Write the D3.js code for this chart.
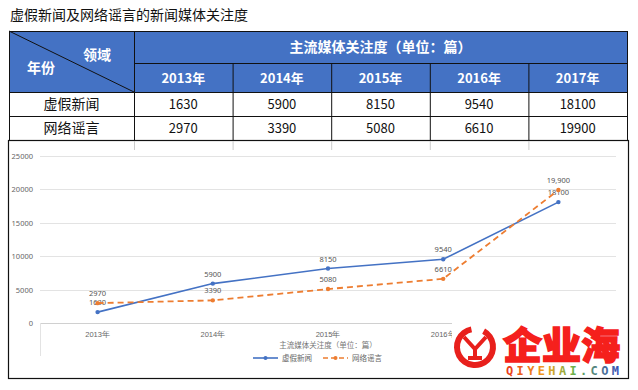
<!DOCTYPE html>
<html>
<head>
<meta charset="utf-8">
<script src="https://cdn.jsdelivr.net/npm/d3@7/dist/d3.min.js"></script>
<style>
  body { margin: 0; background: #fff; }
  svg { display: block; font-family: "Noto Sans CJK SC", "Noto Sans", sans-serif; }
</style>
</head>
<body>
<svg id="chart" width="638" height="390"></svg>
<script>
const years = ['2013年', '2014年', '2015年', '2016年', '2017年'];
const seriesNames = ['虚假新闻', '网络谣言'];
const fakeNews = [1630, 5900, 8150, 9540, 18100];
const rumors = [2970, 3390, 5080, 6610, 19900];
const fakeLabels = ['1630', '5900', '8150', '9540', '18100'];
const rumorLabels = ['2970', '3390', '5080', '6610', '19,900'];
const yTicks = [0, 5000, 10000, 15000, 20000, 25000];

const title = '虚假新闻及网络谣言的新闻媒体关注度';
const unitTitle = '主流媒体关注度（单位：篇）';

const blue = '#4472C4', orange = '#ED7D31';

let svg = d3.select('#chart');

// title
svg.append('text')
  .attr('x', 10).attr('y', 20)
  .attr('font-size', 14).attr('fill', '#111')
  .text(title);

// ---------- table ----------
let tLeft = 9, tRight = 627, firstCol = 134;
let rowY = [31, 63, 92, 116, 140];
let colX = d3.scaleBand().domain(years).range([firstCol, tRight]);

let table = svg.append('g');

table.append('rect')
  .attr('x', tLeft).attr('y', rowY[0])
  .attr('width', tRight - tLeft).attr('height', rowY[2] - rowY[0])
  .attr('fill', blue);

// year header cells + data cells
years.forEach((y, i) => {
  let cx = colX(y) + colX.bandwidth() / 2;
  table.append('text')
    .attr('x', cx).attr('y', (rowY[1] + rowY[2]) / 2 + 5)
    .attr('text-anchor', 'middle').attr('font-size', 13).attr('font-weight', 'bold')
    .attr('fill', '#fff').text(y);
  table.append('text')
    .attr('x', cx).attr('y', (rowY[2] + rowY[3]) / 2 + 5)
    .attr('text-anchor', 'middle').attr('font-size', 13).attr('fill', '#111')
    .text(fakeNews[i]);
  table.append('text')
    .attr('x', cx).attr('y', (rowY[3] + rowY[4]) / 2 + 5)
    .attr('text-anchor', 'middle').attr('font-size', 13).attr('fill', '#111')
    .text(rumors[i]);
});

table.append('text')
  .attr('x', (firstCol + tRight) / 2).attr('y', (rowY[0] + rowY[1]) / 2 + 5)
  .attr('text-anchor', 'middle').attr('font-size', 14).attr('font-weight', 'bold')
  .attr('fill', '#fff').text(unitTitle);

table.append('text')
  .attr('x', 97).attr('y', 60)
  .attr('text-anchor', 'middle').attr('font-size', 14).attr('font-weight', 'bold')
  .attr('fill', '#fff').text('领域');
table.append('text')
  .attr('x', 41).attr('y', 73)
  .attr('text-anchor', 'middle').attr('font-size', 14).attr('font-weight', 'bold')
  .attr('fill', '#fff').text('年份');

seriesNames.forEach((n, i) => {
  table.append('text')
    .attr('x', (tLeft + firstCol) / 2).attr('y', (rowY[i + 2] + rowY[i + 3]) / 2 + 5)
    .attr('text-anchor', 'middle').attr('font-size', 14).attr('fill', '#111')
    .text(n);
});

// grid lines
let lineStyle = sel => sel.attr('stroke', '#111').attr('stroke-width', 1);
rowY.forEach((y, i) => {
  let x0 = (i === 1) ? firstCol : tLeft;
  table.append('line').attr('x1', x0).attr('x2', tRight)
    .attr('y1', y + 0.5).attr('y2', y + 0.5).call(lineStyle);
});
table.append('line').attr('x1', tLeft + 0.5).attr('x2', tLeft + 0.5)
  .attr('y1', rowY[0]).attr('y2', rowY[4]).call(lineStyle);
table.append('line').attr('x1', tRight + 0.5).attr('x2', tRight + 0.5)
  .attr('y1', rowY[0]).attr('y2', rowY[4]).call(lineStyle);
table.append('line').attr('x1', firstCol + 0.5).attr('x2', firstCol + 0.5)
  .attr('y1', rowY[0]).attr('y2', rowY[4]).call(lineStyle);
years.slice(1).forEach(y => {
  table.append('line').attr('x1', colX(y) + 0.5).attr('x2', colX(y) + 0.5)
    .attr('y1', rowY[1]).attr('y2', rowY[4]).call(lineStyle);
});
table.append('line').attr('x1', tLeft).attr('y1', rowY[0])
  .attr('x2', firstCol).attr('y2', rowY[2]).call(lineStyle);

// ---------- chart ----------
let box = { left: 8, right: 628, top: 140, bottom: 378 };
svg.append('rect')
  .attr('x', box.left + 0.5).attr('y', box.top + 0.5)
  .attr('width', box.right - box.left).attr('height', box.bottom - box.top)
  .attr('fill', 'none').attr('stroke', '#111').attr('stroke-width', 1.2);

// faint leftover column lines
[firstCol].concat(years.slice(1).map(y => colX(y))).forEach(x => {
  svg.append('line').attr('x1', x + 0.5).attr('x2', x + 0.5)
    .attr('y1', 141).attr('y2', 150).attr('stroke', '#ccc');
});

let margin = { left: 40, right: 616, top: 156, bottom: 323 };
let x = d3.scaleBand().domain(years).range([margin.left, margin.right]);
let y = d3.scaleLinear().domain([0, 25000]).range([margin.bottom, margin.top]);

let g = svg.append('g');

g.selectAll('.grid').data(yTicks).enter().append('line')
  .attr('x1', margin.left).attr('x2', margin.right)
  .attr('y1', d => Math.round(y(d)) + 0.5).attr('y2', d => Math.round(y(d)) + 0.5)
  .attr('stroke', d => d === 0 ? '#d0d0d0' : '#e3e3e3');

g.append('line').attr('x1', margin.left + 0.5).attr('x2', margin.left + 0.5)
  .attr('y1', margin.bottom).attr('y2', 356).attr('stroke', '#e3e3e3');

let yAxis = g.append('g')
  .attr('transform', `translate(${margin.left - 4},0)`)
  .call(d3.axisLeft(y).tickValues(yTicks).tickSize(0).tickFormat(d3.format('d')));
yAxis.select('.domain').remove();
yAxis.selectAll('text').attr('font-size', 7.5).attr('fill', '#666')
  .attr('font-family', '"Noto Sans", sans-serif');

let xAxis = g.append('g')
  .attr('transform', `translate(0,${margin.bottom + 6})`)
  .call(d3.axisBottom(x).tickSize(0));
xAxis.select('.domain').remove();
xAxis.selectAll('text').attr('font-size', 7.5).attr('fill', '#666');

g.append('text')
  .attr('x', (margin.left + margin.right) / 2).attr('y', 348)
  .attr('text-anchor', 'middle').attr('font-size', 7.5).attr('fill', '#777')
  .text(unitTitle);

let line = d3.line()
  .x((d, i) => x(years[i]) + x.bandwidth() / 2)
  .y(d => y(d));

let series = [
  { name: seriesNames[0], values: fakeNews, labels: fakeLabels, color: blue, dash: null, width: 1.6 },
  { name: seriesNames[1], values: rumors, labels: rumorLabels, color: orange, dash: '6,4', width: 1.8 }
];

series.forEach(s => {
  g.append('path')
    .attr('d', line(s.values))
    .attr('fill', 'none').attr('stroke', s.color)
    .attr('stroke-width', s.width).attr('stroke-dasharray', s.dash);
  g.selectAll(null).data(s.values).enter().append('circle')
    .attr('cx', (d, i) => x(years[i]) + x.bandwidth() / 2)
    .attr('cy', d => y(d)).attr('r', 2.2).attr('fill', s.color);
  g.selectAll(null).data(s.values).enter().append('text')
    .attr('x', (d, i) => x(years[i]) + x.bandwidth() / 2)
    .attr('y', d => y(d) - 7)
    .attr('text-anchor', 'middle').attr('font-size', 7.5).attr('fill', '#555')
    .attr('font-family', '"Noto Sans", sans-serif')
    .text((d, i) => s.labels[i]);
});

// legend
let legend = g.append('g').attr('transform', 'translate(253,358)');
let lx = [0, 70];
series.forEach((s, i) => {
  let lg = legend.append('g').attr('transform', `translate(${lx[i]},0)`);
  lg.append('line').attr('x1', 0).attr('x2', 25).attr('y1', 0).attr('y2', 0)
    .attr('stroke', s.color).attr('stroke-width', 1.6)
    .attr('stroke-dasharray', s.dash ? '5,3' : null);
  lg.append('circle').attr('cx', 12.5).attr('cy', 0).attr('r', 2).attr('fill', s.color);
  lg.append('text').attr('x', 29).attr('y', 3).attr('font-size', 7.5).attr('fill', '#666')
    .text(s.name);
});

// watermark
let wm = svg.append('g');
wm.append('rect').attr('x', 452).attr('y', 322).attr('width', 172).attr('height', 54).attr('fill', '#fff');
wm.append('path')
  .attr('d', d3.arc()({ innerRadius: 15, outerRadius: 21, startAngle: 0.5, endAngle: Math.PI * 2 - 0.2 }))
  .attr('transform', 'translate(475,347)').attr('fill', '#e8201c');
wm.append('path')
  .attr('d', 'M464,337 L475,349 L486,337 M475,349 L475,358 M468,358 L482,358')
  .attr('fill', 'none').attr('stroke', '#e8201c').attr('stroke-width', 4);
wm.append('text')
  .attr('x', 503).attr('y', 359).attr('font-size', 38).attr('font-weight', 900)
  .attr('fill', '#f5201c').attr('stroke', '#f5201c').attr('stroke-width', 1.5)
  .attr('textLength', 117).attr('lengthAdjust', 'spacingAndGlyphs').text('企业海');
let grad = svg.append('defs').append('linearGradient').attr('id', 'wmg');
[['0%', '#e8381c'], ['35%', '#f0a020'], ['60%', '#6ab04c'], ['100%', '#3a4fb8']].forEach(s => {
  grad.append('stop').attr('offset', s[0]).attr('stop-color', s[1]);
});
wm.append('text')
  .attr('x', 506).attr('y', 375).attr('font-size', 12).attr('font-weight', 'bold')
  .attr('font-family', '"DejaVu Sans Mono", monospace')
  .attr('fill', 'url(#wmg)').attr('textLength', 113).text('QIYEHAI.COM');
</script>
</body>
</html>
